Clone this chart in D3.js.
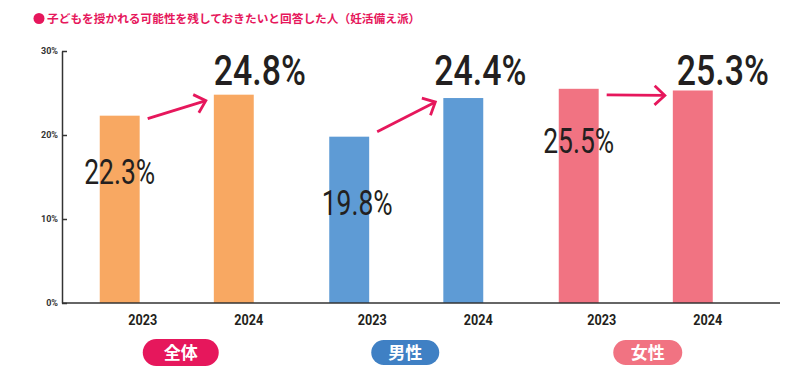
<!DOCTYPE html>
<html>
<head>
<meta charset="utf-8">
<script src="https://cdn.jsdelivr.net/npm/d3@7"></script>
<style>
  html, body { margin: 0; padding: 0; background: #fff; }
  svg { display: block; }
</style>
</head>
<body>
<svg id="chart" width="800" height="380"></svg>
<script>
// ---- data ----
const title = "子どもを授かれる可能性を残しておきたいと回答した人（妊活備え派）";
const groups = ["全体", "男性", "女性"];
const years = ["2023", "2024"];
const values2023 = [22.3, 19.8, 25.5];
const values2024 = [24.8, 24.4, 25.3];
const yTicks = [0, 10, 20, 30];

const barColors = ["#f8a862", "#5e9bd5", "#f17382"];
const pillColors = ["#e6175c", "#3f80c4", "#f17382"];
const accent = "#e6175c";
const ink = "#231f20";

// ---- layout ----
const svg = d3.select("#chart");
const axisX = 62, axisY = 303, topY = 51, rightX = 780;

const y = d3.scaleLinear().domain([0, 30]).range([axisY, topY]);
const gx = d3.scaleBand().domain(groups).range([62, 750.5]);
const inner = d3.scaleBand().domain(years).range([-77, 77]).paddingInner(0.65).paddingOuter(0);
const barW = inner.bandwidth();
const barX = (g, yr) => gx(g) + gx.bandwidth() / 2 + inner(yr);

// title
const tg = svg.append("g");
tg.append("circle").attr("cx", 39).attr("cy", 18.5).attr("r", 5.5).attr("fill", accent);
tg.append("text").attr("x", 47).attr("y", 23)
  .attr("font-family", "'Noto Sans CJK JP', sans-serif")
  .attr("font-weight", 700).attr("font-size", 11.7).attr("fill", accent)
  .text(title);

// y axis
const yAxis = d3.axisLeft(y).tickValues(yTicks).tickFormat(d => d + "%")
  .tickSizeInner(-5).tickSizeOuter(0).tickPadding(4);
const ya = svg.append("g").attr("transform", `translate(${axisX},0)`).call(yAxis);
ya.select(".domain").attr("stroke", "#333").attr("stroke-width", 1.5);
ya.selectAll(".tick line").attr("stroke", "#333").attr("stroke-width", 1.5);
ya.selectAll(".tick text").attr("font-family", "Roboto, sans-serif").attr("font-weight", 700)
  .attr("font-size", 9).attr("fill", "#333");

// bars
const rows = [];
groups.forEach((g, i) => {
  rows.push({ g, i, yr: "2023", v: values2023[i] });
  rows.push({ g, i, yr: "2024", v: values2024[i] });
});
svg.append("g").selectAll("rect").data(rows).join("rect")
  .attr("x", d => barX(d.g, d.yr))
  .attr("y", d => y(d.v))
  .attr("width", barW)
  .attr("height", d => y(0) - y(d.v))
  .attr("fill", d => barColors[d.i]);

// x axis line
svg.append("line").attr("x1", axisX).attr("x2", rightX).attr("y1", axisY).attr("y2", axisY)
  .attr("stroke", "#333").attr("stroke-width", 1.6);

// year labels
svg.append("g").selectAll("text").data(rows).join("text")
  .attr("x", d => barX(d.g, d.yr) + barW / 2 + (d.yr === "2023" ? 23 : 15))
  .attr("y", 325)
  .attr("text-anchor", "middle")
  .attr("font-family", "Roboto, sans-serif").attr("font-weight", 700).attr("font-size", 15)
  .attr("fill", ink)
  .attr("textLength", 29).attr("lengthAdjust", "spacingAndGlyphs")
  .text(d => d.yr);

// value labels
const fmt = v => v.toFixed(1) + "%";
const dy2023 = [68, 78, 64];
const dx2023 = [0, 8, 0];
svg.append("g").selectAll("text").data(rows.filter(d => d.yr === "2023")).join("text")
  .attr("x", d => barX(d.g, d.yr) + barW / 2 + dx2023[d.i])
  .attr("y", d => y(d.v) + dy2023[d.i])
  .attr("text-anchor", "middle")
  .attr("font-family", "Roboto, sans-serif").attr("font-weight", 400).attr("font-size", 35)
  .attr("fill", ink)
  .attr("textLength", 71).attr("lengthAdjust", "spacingAndGlyphs")
  .text(d => fmt(d.v));

const dx2024 = [0, -9, 4];
svg.append("g").selectAll("text").data(rows.filter(d => d.yr === "2024")).join("text")
  .attr("x", d => barX(d.g, d.yr) + dx2024[d.i])
  .attr("y", 85)
  .attr("font-family", "Roboto, sans-serif").attr("font-weight", 500).attr("font-size", 42)
  .attr("fill", ink)
  .attr("textLength", 92).attr("lengthAdjust", "spacingAndGlyphs")
  .text(d => fmt(d.v));

// arrows
const startDy = [3, -5, 6];
const endDy = [6, 4, 5];
const ag = svg.append("g").attr("stroke", accent).attr("stroke-width", 2.8)
  .attr("fill", "none").attr("stroke-linecap", "butt").attr("stroke-linejoin", "miter");
groups.forEach((g, i) => {
  const x1 = barX(g, "2023") + barW + 8, y1 = y(values2023[i]) + startDy[i];
  const x2 = barX(g, "2024") - 8, y2 = y(values2024[i]) + endDy[i];
  const ang = Math.atan2(y2 - y1, x2 - x1);
  const L = 14, spread = Math.PI / 4.2;
  ag.append("line").attr("x1", x1).attr("y1", y1).attr("x2", x2 - 1.5 * Math.cos(ang)).attr("y2", y2 - 1.5 * Math.sin(ang));
  const p = d3.path();
  p.moveTo(x2 - L * Math.cos(ang - spread), y2 - L * Math.sin(ang - spread));
  p.lineTo(x2, y2);
  p.lineTo(x2 - L * Math.cos(ang + spread), y2 - L * Math.sin(ang + spread));
  ag.append("path").attr("d", p.toString());
});

// group pills
const pillW = [76, 68, 69];
const pillDx = [4, -1, 12];
const pg = svg.append("g");
groups.forEach((g, i) => {
  const cx = gx(g) + gx.bandwidth() / 2 + pillDx[i];
  const h = i === 0 ? 27 : 25;
  pg.append("rect").attr("x", cx - pillW[i] / 2).attr("y", 352.5 - h / 2)
    .attr("width", pillW[i]).attr("height", h).attr("rx", h / 2)
    .attr("fill", pillColors[i]);
  pg.append("text").attr("x", cx).attr("y", 358.5).attr("text-anchor", "middle")
    .attr("font-family", "'Noto Sans CJK JP', sans-serif").attr("font-weight", 700)
    .attr("font-size", 17).attr("fill", "#fff").text(g);
});
</script>
</body>
</html>
